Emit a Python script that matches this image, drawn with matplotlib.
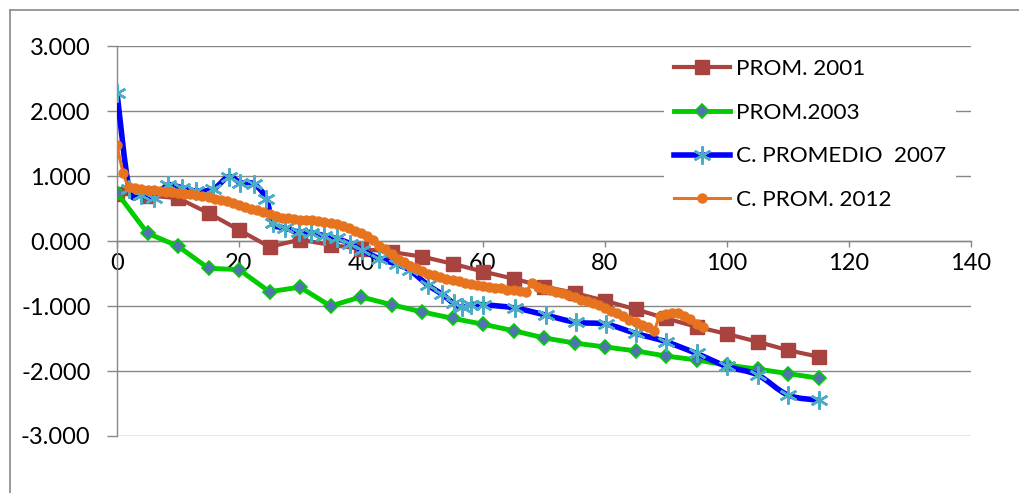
import numpy as np
import matplotlib.pyplot as plt
from matplotlib.path import Path
from matplotlib.patches import PathPatch
from matplotlib.lines import Line2D
from matplotlib.ticker import FuncFormatter

plt.rcParams['font.family'] = ['Lato', 'DejaVu Sans']
plt.rcParams['axes.unicode_minus'] = False

# ---- data ----
x_2001 = [0, 5, 10, 15, 20, 25, 30, 35, 40, 45, 50, 55, 60, 65, 70, 75, 80, 85, 90, 95, 100, 105, 110, 115]
y_2001 = [0.73, 0.70, 0.66, 0.43, 0.17, -0.09, 0.02, -0.06, -0.12, -0.17, -0.24, -0.35, -0.47, -0.58,
          -0.70, -0.80, -0.92, -1.05, -1.19, -1.32, -1.43, -1.55, -1.68, -1.78]

x_2003 = [0, 5, 10, 15, 20, 25, 30, 35, 40, 45, 50, 55, 60, 65, 70, 75, 80, 85, 90, 95, 100, 105, 110, 115]
y_2003 = [0.74, 0.12, -0.08, -0.42, -0.44, -0.78, -0.71, -1.00, -0.86, -0.98, -1.09, -1.19, -1.28, -1.38,
          -1.49, -1.57, -1.63, -1.69, -1.77, -1.83, -1.91, -1.97, -2.04, -2.11]

x_2007 = [0, 2, 4, 6, 8.3, 10.6, 13, 15.8, 18.3, 20.2, 22.4, 24.5, 25.5, 27.5, 29.8, 31.8, 34, 36, 38.2,
          40.1, 43, 45.9, 48, 51, 53.3, 55.2, 56.5, 58, 60, 65.2, 70.3, 75.2, 80.2, 85, 90, 95, 100, 105,
          110, 115]
y_2007 = [2.28, 0.80, 0.71, 0.66, 0.86, 0.82, 0.77, 0.80, 0.99, 0.90, 0.88, 0.65, 0.27, 0.20, 0.14, 0.13,
          0.08, 0.04, -0.04, -0.14, -0.27, -0.36, -0.45, -0.68, -0.82, -0.96, -1.02, -0.98, -0.98, -1.03,
          -1.14, -1.25, -1.28, -1.42, -1.55, -1.73, -1.93, -2.06, -2.37, -2.45]

x_2012 = [0, 1, 2, 3, 4, 5, 6, 7, 8, 9, 10, 11, 12, 13, 14, 15, 16, 17, 18, 19, 20, 21, 22, 23, 24, 25,
          26, 27, 28, 29, 30, 31, 32, 33, 34, 35, 36, 37, 38, 39, 40, 41, 42, 43, 44, 45, 46, 47, 48, 49,
          50, 51, 52, 53, 54, 55, 56, 57, 58, 59, 60, 61, 62, 63, 64, 65, 66, 67, 68, 69, 70, 71, 72, 73,
          74, 75, 76, 77, 78, 79, 80, 81, 82, 83, 84, 85, 86, 87, 88, 89, 90, 91, 92, 93, 94, 95, 96]
y_2012 = [1.48, 1.05, 0.83, 0.81, 0.80, 0.79, 0.78, 0.77, 0.76, 0.75, 0.74, 0.73, 0.72, 0.71, 0.69,
          0.67, 0.65, 0.63, 0.61, 0.59, 0.56, 0.53, 0.50, 0.47, 0.44, 0.41, 0.38, 0.36, 0.35, 0.34,
          0.33, 0.32, 0.32, 0.31, 0.30, 0.28, 0.26, 0.23, 0.20, 0.16, 0.12, 0.07, 0.01, -0.07, -0.13,
          -0.20, -0.27, -0.33, -0.38, -0.42, -0.46, -0.50, -0.53, -0.56, -0.58, -0.60, -0.62, -0.64,
          -0.66, -0.68, -0.69, -0.70, -0.72, -0.73, -0.75, -0.76, -0.77, -0.79, -0.65, -0.70, -0.74,
          -0.76, -0.78, -0.80, -0.83, -0.86, -0.90, -0.93, -0.96, -0.99, -1.03, -1.07, -1.11, -1.16,
          -1.21, -1.25, -1.29, -1.33, -1.38, -1.15, -1.12, -1.10, -1.11, -1.15, -1.20, -1.27, -1.33]

labels = ['PROM. 2001', 'PROM.2003', 'C. PROMEDIO  2007', 'C. PROM. 2012']
x_ticks = [0, 20, 40, 60, 80, 100, 120, 140]
y_ticks = [-3, -2, -1, 0, 1, 2, 3]

c_red = '#A8433F'
c_green = '#00CC00'
c_blue = '#0000FF'
c_teal = '#4BACC6'
c_dia = '#4F74B0'
c_orange = '#E8731E'
c_grid = '#888888'


def smooth_path(x, y):
    # Excel-like smoothed line (Catmull-Rom as cubic Bezier)
    pts = np.column_stack([x, y]).astype(float)
    n = len(pts)
    verts = [pts[0]]
    codes = [Path.MOVETO]
    for i in range(n - 1):
        p0 = pts[i - 1] if i > 0 else pts[i]
        p1 = pts[i]
        p2 = pts[i + 1]
        p3 = pts[i + 2] if i + 2 < n else pts[i + 1]
        verts += [p1 + (p2 - p0) / 6, p2 - (p3 - p1) / 6, p2]
        codes += [Path.CURVE4] * 3
    return Path(verts, codes)


fig = plt.figure(figsize=(10.19, 4.93), dpi=100)
ax = fig.add_axes([117 / 1019, 1 - 436 / 493, (971 - 117) / 1019, (436 - 46) / 493])

ax.set_xlim(0, 140)
ax.set_ylim(-3, 3)
ax.set_xticks(x_ticks)
ax.set_yticks(y_ticks)
ax.yaxis.set_major_formatter(FuncFormatter(lambda v, p: f'{v:.3f}'))

for s in ['top', 'right']:
    ax.spines[s].set_visible(False)
ax.spines['left'].set_color(c_grid)
ax.spines['left'].set_linewidth(1.0)
ax.spines['bottom'].set_position(('data', 0))
ax.spines['bottom'].set_color(c_grid)
ax.spines['bottom'].set_linewidth(1.0)

ax.grid(axis='y', color=c_grid, lw=1.0)
ax.set_axisbelow(True)
ax.tick_params(axis='y', length=7, width=1.0, color=c_grid, pad=12, labelsize=17)
ax.tick_params(axis='x', length=4.5, width=1.0, color=c_grid, pad=4, labelsize=17, direction='out')

# series (later ones on top, like Excel)
ax.plot(x_2001, y_2001, color=c_red, lw=3, marker='s', ms=10.5, mfc=c_red, mec=c_red, zorder=3,
        solid_joinstyle='round')
ax.plot(x_2003, y_2003, color=c_green, lw=3.5, marker='D', ms=7, mfc=c_dia, mec=c_green, mew=1.2,
        zorder=4, solid_joinstyle='round')
ax.add_patch(PathPatch(smooth_path(x_2007, y_2007), fill=False, edgecolor=c_blue, lw=4,
                       capstyle='round', joinstyle='round', zorder=5))
ax.plot(x_2007, y_2007, ls='none', marker=(6, 2, 0), ms=13, mec=c_teal, mew=1.8, zorder=6)
ax.add_patch(PathPatch(smooth_path(x_2012, y_2012), fill=False, edgecolor=c_orange, lw=2.2,
                       capstyle='round', joinstyle='round', zorder=7))
ax.plot(x_2012, y_2012, ls='none', marker='o', ms=6.5, mfc=c_orange, mec=c_orange, zorder=8)

handles = [
    Line2D([], [], color=c_red, lw=3, marker='s', ms=10.5, mfc=c_red, mec=c_red),
    Line2D([], [], color=c_green, lw=3.5, marker='D', ms=7, mfc=c_dia, mec=c_green, mew=1.2),
    Line2D([], [], color=c_blue, lw=4, marker=(6, 2, 0), ms=13, mec=c_teal, mew=1.8),
    Line2D([], [], color=c_orange, lw=2.2, marker='o', ms=6.5, mfc=c_orange, mec=c_orange),
]
leg = fig.legend(handles, labels, loc='upper left', bbox_to_anchor=(664 / 1019, 1 - 49 / 493),
                 bbox_transform=fig.transFigure, frameon=True, fancybox=False, edgecolor='none',
                 facecolor='white', framealpha=1, fontsize=16.2, handlelength=2.5, handletextpad=0.25,
                 labelspacing=1.05, borderpad=0.45, borderaxespad=0, numpoints=1)

# chart area border
fig.add_artist(Line2D([10 / 1019, 10 / 1019], [0, 1 - 10 / 493], color=c_grid, lw=1.2,
                      transform=fig.transFigure))
fig.add_artist(Line2D([10 / 1019, 1], [1 - 10 / 493, 1 - 10 / 493], color=c_grid, lw=1.2,
                      transform=fig.transFigure))

fig.savefig('out.png', dpi=100)
